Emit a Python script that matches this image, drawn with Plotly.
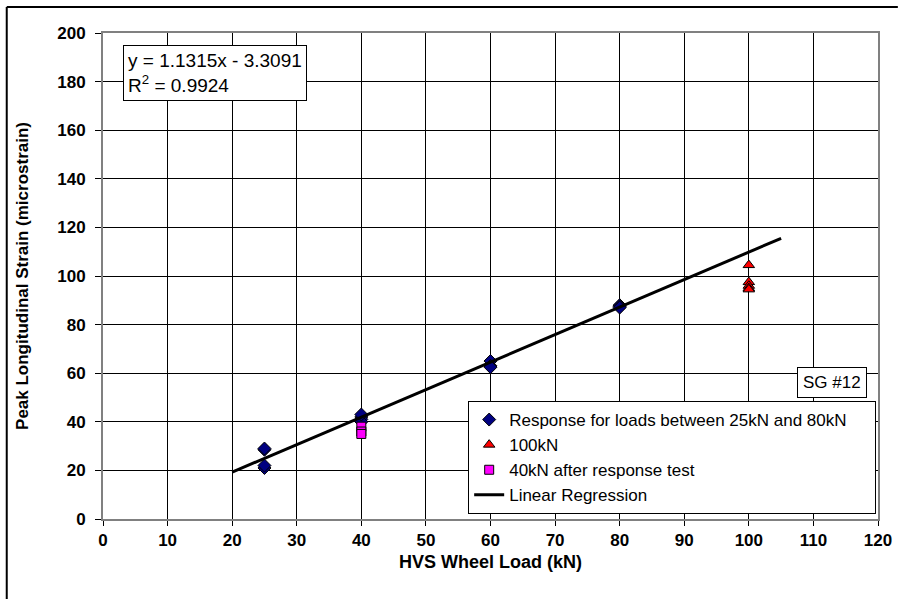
import plotly.graph_objects as go

# ---- data ----
resp_x = [25, 25, 25, 25, 40, 40, 40, 40, 60, 60, 60, 80, 80, 80]
resp_y = [28.5, 29, 21, 22, 42, 41, 40, 43, 65, 63, 62.5, 88, 87.5, 87]
kn100_x = [100, 100, 100, 100, 100]
kn100_y = [104.5, 97.5, 96, 95, 94.5]
after_x = [40, 40, 40]
after_y = [38, 36, 35]
slope, intercept = 1.1315, -3.3091
reg_x = [20, 105]
reg_y = [slope * v + intercept for v in reg_x]

x_ticks = list(range(0, 121, 10))
y_ticks = list(range(0, 201, 20))

FONT = "Arial, Liberation Sans, sans-serif"

fig = go.Figure()
fig.add_trace(go.Scatter(
    x=resp_x, y=resp_y, mode="markers",
    name="Response for loads between 25kN and 80kN" + "\u00a0" * 5,
    marker=dict(symbol="diamond", size=10, color="#000080", line=dict(color="black", width=1))))
fig.add_trace(go.Scatter(
    x=kn100_x, y=kn100_y, mode="markers", name="100kN",
    marker=dict(symbol="triangle-up", size=10, color="#FF0000", line=dict(color="black", width=1))))
fig.add_trace(go.Scatter(
    x=after_x, y=after_y, mode="markers", name="40kN after response test",
    marker=dict(symbol="square", size=9, color="#FF00FF", line=dict(color="black", width=1))))
fig.add_trace(go.Scatter(
    x=reg_x, y=reg_y, mode="lines", name="Linear Regression",
    line=dict(color="black", width=3)))

# plot area: x 103..884, y 33..519 in a 904x599 page
L, R, T, B = 103, 884, 33, 519
W, H = R - L, B - T

def px(xp):
    return (xp - L) / W

def py(yp):
    return (B - yp) / H

fig.update_layout(
    width=904, height=599,
    margin=dict(l=L, r=904 - R, t=T, b=599 - B),
    paper_bgcolor="white", plot_bgcolor="white",
    font=dict(family=FONT, color="black"),
    showlegend=True,
    legend=dict(
        x=px(471), y=py(514), xanchor="left", yanchor="bottom",
        bordercolor="black", borderwidth=1, bgcolor="white",
        font=dict(size=17, family=FONT), tracegroupgap=0,
        itemwidth=30,
    ),
    xaxis=dict(
        range=[0, 120], tickvals=x_ticks, ticktext=[str(v) for v in x_ticks],
        showgrid=True, gridcolor="black", gridwidth=1,
        showline=True, linecolor="#808080", linewidth=2, mirror=True,
        ticks="outside", ticklen=5, tickcolor="black",
        tickfont=dict(size=17, family=FONT, weight="bold"), zeroline=False,
        title=dict(text="<b>HVS Wheel Load (kN)</b>", font=dict(size=18, family=FONT), standoff=6),
    ),
    yaxis=dict(
        range=[0, 200], tickvals=y_ticks, ticktext=[str(v) for v in y_ticks],
        showgrid=True, gridcolor="black", gridwidth=1,
        showline=True, linecolor="#808080", linewidth=2, mirror=True,
        ticks="outside", ticklen=6, tickcolor="black", ticklabelstandoff=6,
        tickfont=dict(size=17, family=FONT, weight="bold"), zeroline=False,
        title=dict(text="<b>Peak Longitudinal Strain (microstrain)</b>", font=dict(size=17, family=FONT), standoff=24),
    ),
)

fig.add_annotation(
    xref="paper", yref="paper", x=px(123), y=py(45), xanchor="left", yanchor="top",
    text="y = 1.1315x - 3.3091<br>R<sup>2</sup> = 0.9924", showarrow=False, align="left",
    font=dict(size=19, family=FONT), bordercolor="black", borderwidth=1, bgcolor="white", borderpad=4,
)
fig.add_annotation(
    xref="paper", yref="paper", x=px(873), y=py(367), xanchor="right", yanchor="top",
    text="SG #12", showarrow=False, font=dict(size=17, family=FONT),
    bordercolor="black", borderwidth=1, bgcolor="white", borderpad=5,
)

# outer frame (left and top edges visible)
fig.add_shape(type="line", xref="paper", yref="paper", x0=px(6), x1=px(6), y0=py(7), y1=py(599),
              line=dict(color="black", width=2))
fig.add_shape(type="line", xref="paper", yref="paper", x0=px(6), x1=px(904), y0=py(7), y1=py(7),
              line=dict(color="black", width=2))

fig.write_html("out.html")
